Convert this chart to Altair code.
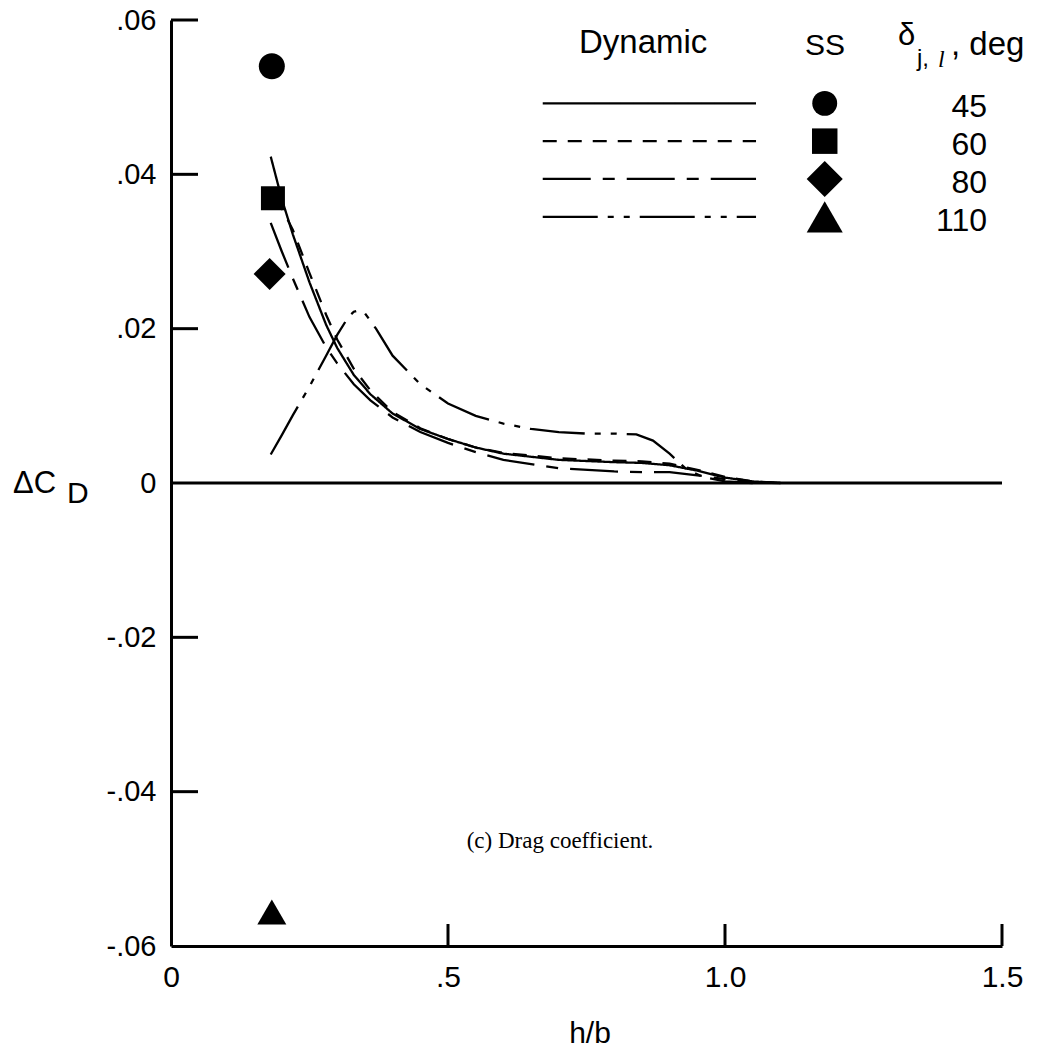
import altair as alt
import pandas as pd

# ---------------- data ----------------
SERIES = ["45", "60", "80", "110"]          # delta_j,l, deg

H_45 = [0.18, 0.20, 0.22, 0.25, 0.28, 0.30, 0.33, 0.36, 0.40, 0.45, 0.50, 0.55,
        0.60, 0.70, 0.80, 0.85, 0.90, 0.95, 1.00, 1.05, 1.10]
CD_45 = [0.0423, 0.0368, 0.0322, 0.0260, 0.0205, 0.0175, 0.0140, 0.0115, 0.0090,
         0.0070, 0.0057, 0.0046, 0.0038, 0.0030, 0.0027, 0.0026, 0.0023, 0.0016,
         0.0007, 0.0002, 0.0]

H_60 = [0.19, 0.20, 0.22, 0.25, 0.28, 0.30, 0.33, 0.36, 0.40, 0.45, 0.50, 0.55,
        0.60, 0.70, 0.80, 0.85, 0.90, 0.95, 1.00, 1.05, 1.10]
CD_60 = [0.0370, 0.0356, 0.0328, 0.0272, 0.0218, 0.0186, 0.0148, 0.0120, 0.0092,
         0.0071, 0.0057, 0.0046, 0.0039, 0.0032, 0.0029, 0.0028, 0.0025, 0.0017,
         0.0008, 0.0002, 0.0]

H_80 = [0.18, 0.20, 0.22, 0.25, 0.28, 0.30, 0.33, 0.36, 0.40, 0.45, 0.50, 0.55,
        0.60, 0.70, 0.80, 0.85, 0.90, 0.95, 1.00, 1.05, 1.10]
CD_80 = [0.0337, 0.0300, 0.0265, 0.0215, 0.0176, 0.0155, 0.0128, 0.0107, 0.0085,
         0.0066, 0.0052, 0.0040, 0.0030, 0.0019, 0.0015, 0.0014, 0.0014, 0.0010,
         0.0005, 0.0001, 0.0]

H_110 = [0.18, 0.20, 0.22, 0.25, 0.28, 0.30, 0.32, 0.33, 0.34, 0.35, 0.37, 0.40,
         0.45, 0.50, 0.55, 0.60, 0.65, 0.70, 0.75, 0.80, 0.84, 0.87, 0.90, 0.93,
         0.96, 1.00, 1.05]
CD_110 = [0.0037, 0.0062, 0.0088, 0.0125, 0.0165, 0.0192, 0.0215, 0.0222, 0.0224,
          0.0220, 0.0200, 0.0165, 0.0128, 0.0103, 0.0087, 0.0077, 0.0070, 0.0066,
          0.0064, 0.0064, 0.0063, 0.0055, 0.0038, 0.0018, 0.0008, 0.0002, 0.0]

# steady-state (SS) symbols
SS_H = [0.182, 0.184, 0.178, 0.182]
SS_CD = [0.0540, 0.0369, 0.0271, -0.0556]

X_TICKS = [0, 0.5, 1.0, 1.5]
Y_TICKS = [-0.06, -0.04, -0.02, 0, 0.02, 0.04, 0.06]
Y_INNER_TICKS = [0.06, 0.04, 0.02, -0.02, -0.04]
X_INNER_TICKS = [0.5, 1.0, 1.5]

# ---------------- styles ----------------
DASHES = [[1, 0], [14, 11], [48, 12, 12, 12], [55, 10, 6, 10, 6, 10]]
SHAPES = ["circle", "square", "diamond", "triangle-up"]
SIZES = [676, 576, 1024, 841]          # symbols in the plot
LEG_SIZES = [620, 650, 1300, 1300]     # symbols in the key
FONT = "Liberation Sans"

W, H = 831, 926

lines_df = pd.concat([
    pd.DataFrame({"series": s, "h": hs, "cd": cds})
    for s, hs, cds in [("45", H_45, CD_45), ("60", H_60, CD_60),
                       ("80", H_80, CD_80), ("110", H_110, CD_110)]
], ignore_index=True)
points_df = pd.DataFrame({"series": SERIES, "h": SS_H, "cd": SS_CD})
legend_df = pd.DataFrame({"series": SERIES, "row": list(range(len(SERIES)))})

x_scale = alt.Scale(domain=[0, 1.5], nice=False, zero=False)
y_scale = alt.Scale(domain=[-0.06, 0.06], nice=False, zero=False)
dash_scale = alt.Scale(domain=SERIES, range=DASHES)

x_axis = alt.Axis(values=X_TICKS, title=None, grid=False, ticks=False,
                  domainWidth=3, domainColor="black",
                  labelExpr="datum.value == 0 ? '0' : (datum.value == 0.5 ? '.5' : format(datum.value, '.1f'))",
                  labelFont=FONT, labelFontSize=30, labelColor="black",
                  labelPadding=16, labelFlush=False)
y_axis = alt.Axis(values=Y_TICKS, title=None, grid=False, ticks=False,
                  domainWidth=3, domainColor="black",
                  labelExpr="datum.value == 0 ? '0' : ((datum.value < 0 ? '-' : '') + replace(format(abs(datum.value), '.2f'), '0.', '.'))",
                  labelFont=FONT, labelFontSize=29, labelColor="black",
                  labelPadding=15, labelFlush=False)


def X(field):
    return alt.X(field, type="quantitative", scale=x_scale, axis=x_axis)


def Y(field):
    return alt.Y(field, type="quantitative", scale=y_scale, axis=y_axis)


lines = alt.Chart(lines_df).mark_line(color="black", strokeWidth=2.3).encode(
    x=X("h"), y=Y("cd"),
    strokeDash=alt.StrokeDash("series:N", scale=dash_scale, legend=None),
    order="h:Q",
)

point_layers = []
for s, shp, sz, lsz in zip(SERIES, SHAPES, SIZES, LEG_SIZES):
    point_layers.append(
        alt.Chart(points_df).transform_filter(alt.datum.series == s)
        .mark_point(filled=True, color="black", opacity=1, strokeWidth=0,
                    shape=shp, size=sz)
        .encode(x=X("h"), y=Y("cd")))

zero_line = alt.Chart(pd.DataFrame({"v": [0]})).mark_rule(
    color="black", strokeWidth=3).encode(
    y=Y("v"), x=alt.value(0), x2=alt.value(W))

y_ticks = alt.Chart(pd.DataFrame({"v": Y_INNER_TICKS})).mark_rule(
    color="black", strokeWidth=3).encode(
    y=Y("v"), x=alt.value(0), x2=alt.value(27))

x_ticks = alt.Chart(pd.DataFrame({"v": X_INNER_TICKS})).mark_rule(
    color="black", strokeWidth=3).encode(
    x=X("v"), y=alt.value(H), y2=alt.value(H - 22))

# ---------------- legend (in data units) ----------------
leg = alt.Chart(legend_df).transform_calculate(
    ly="0.0492 - 0.0049 * datum.row", lx1="0.671", lx2="1.056",
    lxm="1.180", lxn="1.473")

leg_lines = leg.mark_rule(color="black", strokeWidth=2.3).encode(
    x=X("lx1"), x2="lx2:Q", y=Y("ly"),
    strokeDash=alt.StrokeDash("series:N", scale=dash_scale, legend=None))

leg_marks = []
for s, shp, lsz in zip(SERIES, SHAPES, LEG_SIZES):
    leg_marks.append(
        leg.transform_filter(alt.datum.series == s)
        .mark_point(filled=True, color="black", opacity=1, strokeWidth=0,
                    shape=shp, size=lsz)
        .encode(x=X("lxm"), y=Y("ly")))

leg_nums = leg.mark_text(align="right", baseline="middle", dy=4, font=FONT,
                         fontSize=32, color="black").encode(
    x=X("lxn"), y=Y("ly"), text="series:N")


def label(text, x, y, size=30, font=FONT, align="left", style="normal"):
    return alt.Chart(pd.DataFrame({"t": [text]})).mark_text(
        align=align, baseline="alphabetic", font=font, fontSize=size,
        fontStyle=style, color="black").encode(
        x=alt.value(x), y=alt.value(y), text="t:N")


texts = [
    label("Dynamic", 408, 33, 33),
    label("SS", 634, 35, 30),
    label("δ", 727, 25, 31),
    label("j,", 746, 46, 24),
    label("l", 767, 47, 24, font="Liberation Serif", style="italic"),
    label(", deg", 780, 35, 33),
    label("ΔC", -158, 473, 31),
    label("D", -104, 483, 30),
    label("h/b", 419, 1023, 30, align="center"),
    label("(c) Drag coefficient.", 389, 828, 23, font="Liberation Serif",
          align="center"),
]

chart = alt.layer(
    zero_line, y_ticks, x_ticks, lines, *point_layers,
    leg_lines, *leg_marks, leg_nums, *texts
).properties(
    width=W, height=H,
    padding={"left": 171, "top": 20, "right": 39, "bottom": 107},
    autosize=alt.AutoSizeParams(type="none"),
    background="white",
).configure_view(stroke=None)

chart.save("out.html", embed_options={"renderer": "svg", "actions": False})
